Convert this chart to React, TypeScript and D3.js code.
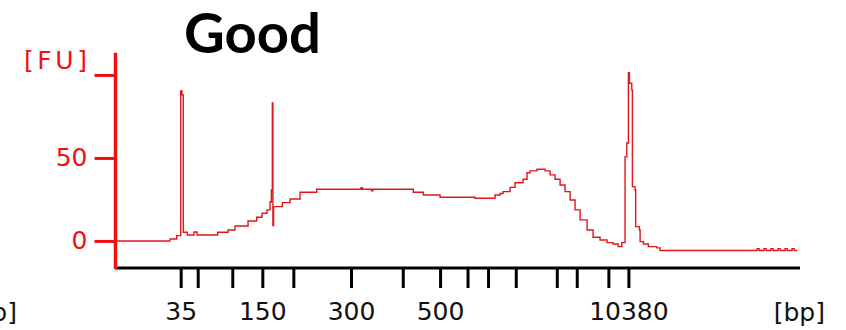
import React, { useEffect, useRef } from "react";
import * as d3 from "d3";

// migration time (s) and fluorescence (FU)
const traceTime = [
  34.0, 41.71, 42.67, 43.24, 43.43, 43.61, 44.19, 45.14, 45.57, 48.53, 50.0, 51.0,
  52.86, 54.1, 54.86, 55.57, 56.0, 56.19, 56.33, 56.41, 56.51, 57.76, 58.86, 60.29,
  62.67, 69.0, 69.2, 70.5, 70.7, 76.47, 77.9, 80.29, 85.29, 88.14, 88.86, 89.29,
  90.29, 91.0, 92.14, 92.71, 93.14, 94.14, 95.29, 96.0, 96.71, 97.43, 98.14, 98.86,
  99.57, 100.29, 101.29, 102.14, 103.14, 104.14, 105.0, 105.71, 106.24, 106.71, 106.96,
  107.19, 107.33, 107.67, 107.76, 108.14, 108.23, 108.76, 108.86, 109.33, 110.04,
  111.24, 111.71, 125.29, 125.57, 125.86, 126.57, 126.86, 127.57, 127.86, 128.57,
  128.86, 129.57, 129.86, 130.57, 130.86, 131.29,
];
const traceFU = [
  0, 1.2, 3.2, 90.4, 88.0, 5.2, 3.6, 5.4, 3.6, 5.2, 6.6, 9.0,
  12.0, 14.3, 16.7, 18.7, 23.5, 30.7, 83.1, 9.2, 20.7, 23.1, 25.3, 29.3,
  31.1, 32.0, 31.1, 30.2, 31.1, 29.3, 27.7, 26.3, 25.7, 27.7, 28.6, 29.7,
  32.3, 35.1, 37.2, 41.1, 42.2, 43.2, 42.2, 39.8, 37.2, 33.7, 29.7, 24.7,
  18.7, 12.7, 6.6, 2.2, 0.6, -1.0, -1.8, -3.4, -1.0, 50.8, 59.0,
  101.4, 95.0, 91.0, 32.7, 30.7, 8.6, 6.6, -0.4, -1.8, -3.4,
  -4.2, -5.8, -5.8, -4.6, -5.8, -4.6, -5.8, -4.6, -5.8, -4.6,
  -5.8, -4.6, -5.8, -4.6, -5.8, -5.8,
];

// ladder sizes and their migration times
const ladderBp = [35, 50, 100, 150, 200, 300, 400, 500, 600, 700, 1000, 2000, 3000, 7000, 10380];
const ladderTime = [43.24, 45.67, 50.61, 54.9, 59.33, 67.57, 74.96, 80.29, 84.21, 87.14, 91.1, 96.96, 99.81, 104.33, 107.19];
const labelledBp = [35, 150, 300, 500, 10380];

const yTicks = [0, 50, 100];
const yLabelled = [0, 50];

const RED = "#f01010";
const FONT = "'DejaVu Sans', Verdana, sans-serif";

export default function App() {
  const ref = useRef<SVGSVGElement>(null);

  useEffect(() => {
    const svg = d3.select(ref.current);
    svg.selectAll("*").remove();

    const x = d3.scaleLinear().domain([34, 131.7]).range([116, 800]);
    const y = d3.scaleLinear().domain([-16.3, 113.4]).range([268, 52.7]);

    // title
    svg.append("text")
      .attr("x", 184)
      .attr("y", 53)
      .attr("font-family", "Lato, 'Open Sans', sans-serif")
      .attr("font-weight", 700)
      .attr("font-size", 55)
      .attr("textLength", 137)
      .attr("lengthAdjust", "spacingAndGlyphs")
      .attr("fill", "#000")
      .text("Good");

    // trace
    const pts = traceTime.map((t, i) => [t, traceFU[i]] as [number, number]);
    const line = d3.line<[number, number]>()
      .x((d) => x(d[0]))
      .y((d) => y(d[1]))
      .curve(d3.curveStepAfter);
    svg.append("path")
      .attr("d", line(pts))
      .attr("fill", "none")
      .attr("stroke", "#e0161c")
      .attr("stroke-width", 1.4);

    // x axis
    const xAxis = svg.append("g")
      .attr("transform", `translate(0,${y.range()[0]})`)
      .call(
        d3.axisBottom(x)
          .tickValues(ladderTime)
          .tickSize(20)
          .tickPadding(14)
          .tickFormat((d, i) => (labelledBp.includes(ladderBp[i]) ? String(ladderBp[i]) : ""))
      );
    xAxis.select(".domain")
      .attr("d", `M115,0H800`)
      .attr("stroke", "#000")
      .attr("stroke-width", 3);
    xAxis.selectAll(".tick line").attr("stroke", "#000").attr("stroke-width", 3);
    xAxis.selectAll(".tick text")
      .attr("font-family", FONT)
      .attr("font-size", 25)
      .attr("fill", "#111");

    // y axis
    const yAxis = svg.append("g")
      .attr("transform", `translate(115.5,0)`)
      .call(
        d3.axisLeft(y)
          .tickValues(yTicks)
          .tickSize(21)
          .tickPadding(7)
          .tickFormat((d) => (yLabelled.includes(+d) ? String(d) : ""))
      );
    yAxis.select(".domain")
      .attr("d", `M0,${y.range()[1]}V${y.range()[0] + 1}`)
      .attr("stroke", RED)
      .attr("stroke-width", 3.5);
    yAxis.selectAll(".tick line").attr("stroke", RED).attr("stroke-width", 3);
    yAxis.selectAll(".tick text")
      .attr("font-family", FONT)
      .attr("font-size", 25)
      .attr("fill", RED);

    // unit labels
    svg.append("text")
      .attr("x", 24)
      .attr("y", 69)
      .attr("font-family", FONT)
      .attr("font-size", 25)
      .attr("textLength", 63)
      .attr("fill", RED)
      .text("[FU]");

    svg.append("text")
      .attr("x", 825)
      .attr("y", 321)
      .attr("text-anchor", "end")
      .attr("font-family", FONT)
      .attr("font-size", 25)
      .attr("fill", "#111")
      .text("[bp]");

    // cut-off axis label from a neighbouring panel
    svg.append("text")
      .attr("x", 17)
      .attr("y", 321)
      .attr("text-anchor", "end")
      .attr("font-family", FONT)
      .attr("font-size", 25)
      .attr("fill", "#111")
      .text("[bp]");
  }, []);

  return (
    <svg
      ref={ref}
      width={846}
      height={330}
      style={{ position: "absolute", left: 0, top: 0, background: "#fff" }}
    />
  );
}
